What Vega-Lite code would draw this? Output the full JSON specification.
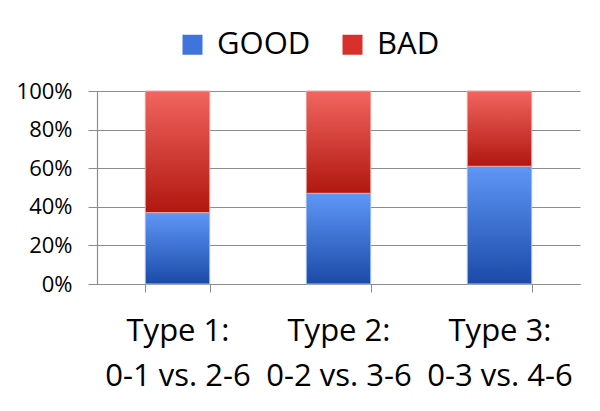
{
  "$schema": "https://vega.github.io/schema/vega-lite/v6.json",
  "width": 483,
  "height": 193,
  "autosize": {"type": "none"},
  "padding": {"left": 97, "top": 91, "right": 20, "bottom": 127},
  "background": "white",
  "config": {
    "font": "Open Sans",
    "view": {"stroke": null},
    "axis": {"labelFont": "Open Sans", "labelColor": "black", "domainColor": "#8c8c8c", "tickColor": "#8c8c8c", "gridColor": "#8c8c8c", "gridWidth": 1.2},
    "legend": {"labelFont": "Open Sans"}
  },
  "data": {
    "values": [
      {"type": "Type 1:|0-1 vs. 2-6", "outcome": "GOOD", "ord": 1, "value": 37},
      {"type": "Type 1:|0-1 vs. 2-6", "outcome": "BAD", "ord": 2, "value": 63},
      {"type": "Type 2:|0-2 vs. 3-6", "outcome": "GOOD", "ord": 1, "value": 47},
      {"type": "Type 2:|0-2 vs. 3-6", "outcome": "BAD", "ord": 2, "value": 53},
      {"type": "Type 3:|0-3 vs. 4-6", "outcome": "GOOD", "ord": 1, "value": 61},
      {"type": "Type 3:|0-3 vs. 4-6", "outcome": "BAD", "ord": 2, "value": 39}
    ]
  },
  "transform": [
    {"stack": "value", "groupby": ["type"], "sort": [{"field": "ord", "order": "ascending"}], "as": ["y0", "y1"]}
  ],
  "encoding": {
    "x": {
      "field": "type", "type": "nominal", "sort": null,
      "scale": {"paddingInner": 0.6, "paddingOuter": 0.3},
      "axis": {
        "title": null, "labelAngle": 0, "labelFontSize": 31, "labelLineHeight": 45,
        "labelExpr": "split(datum.label, '|')", "labelPadding": 24, "tickSize": 8,
        "tickBand": "extent", "labelBaseline": "top", "domainWidth": 1.2
      }
    },
    "y": {
      "field": "y0", "type": "quantitative",
      "scale": {"domain": [0, 100]},
      "axis": {
        "title": null, "values": [0, 20, 40, 60, 80, 100], "labelExpr": "datum.value + '%'",
        "labelFontSize": 22, "tickSize": 9, "labelPadding": 16, "grid": true, "domainWidth": 1.2
      }
    },
    "y2": {"field": "y1"}
  },
  "layer": [
    {
      "mark": {"type": "bar"},
      "encoding": {
        "color": {
          "field": "outcome", "type": "nominal",
          "scale": {"domain": ["GOOD", "BAD"], "range": ["#3f74dd", "#d8302b"]},
          "legend": {
            "title": null, "orient": "none", "direction": "horizontal",
            "legendX": 80, "legendY": -62, "labelFontSize": 31, "symbolType": "square",
            "symbolSize": 400, "columnPadding": 26, "labelOffset": 9
          }
        }
      }
    },
    {
      "transform": [{"filter": "datum.outcome == 'GOOD'"}],
      "mark": {
        "type": "bar", "stroke": "#a9c3ec", "strokeWidth": 1,
        "fill": {"x1": 0, "y1": 0, "x2": 0, "y2": 1, "gradient": "linear",
          "stops": [{"offset": 0, "color": "#5f97f7"}, {"offset": 1, "color": "#1b4aa8"}]}
      }
    },
    {
      "transform": [{"filter": "datum.outcome == 'BAD'"}],
      "mark": {
        "type": "bar", "stroke": "#e9a9a6", "strokeWidth": 1,
        "fill": {"x1": 0, "y1": 0, "x2": 0, "y2": 1, "gradient": "linear",
          "stops": [{"offset": 0, "color": "#f26560"}, {"offset": 1, "color": "#b0170f"}]}
      }
    }
  ]
}
